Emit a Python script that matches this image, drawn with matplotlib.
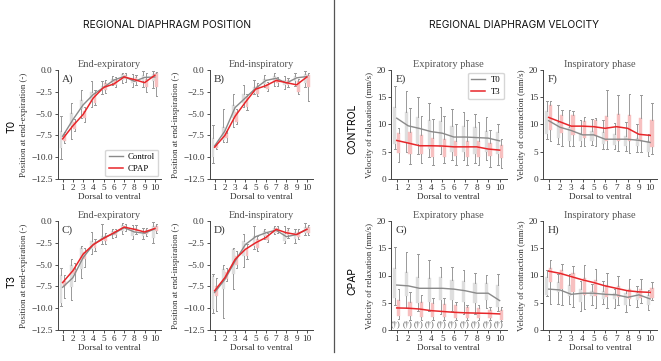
import matplotlib
matplotlib.use("Agg")
import matplotlib.pyplot as plt
from matplotlib.lines import Line2D

# ---------------- data ----------------
positions = [1, 2, 3, 4, 5, 6, 7, 8, 9, 10]
pos_ticks = [-12.5, -10.0, -7.5, -5.0, -2.5, 0.0]
vel_ticks = [0, 5, 10, 15, 20]

# Panel A: end-expiratory position, T0 (Control vs CPAP)
A_ctrl_line = [-7.6, -5.7, -4.0, -2.8, -2.0, -1.15, -0.75, -1.3, -0.85, -0.8]
A_cpap_line = [-7.9, -6.4, -5.1, -3.2, -2.0, -1.6, -0.8, -1.1, -1.45, -0.6]
A_ctrl_box = [(-10.15, -9.0, -6.95, -5.26), (-7.9, -6.4, -4.9, -3.76), (-5.45, -4.5, -3.4, -2.3),
              (-4.3, -3.6, -2.5, -1.3), (-2.8, -2.3, -1.8, -1.3), (-1.7, -1.5, -1.05, -0.68),
              (-1.5, -1.1, -0.45, -0.3), (-1.95, -1.5, -0.94, -0.45), (-1.95, -1.3, -0.56, -0.11),
              (-2.07, -1.3, -0.45, -0.08)]
A_cpap_box = [(-8.35, -8.1, -7.3, -7.07), (-6.95, -6.8, -6.0, -5.6), (-6.0, -5.45, -4.7, -4.2),
              (-4.06, -3.76, -2.63, -2.33), (-2.63, -2.33, -1.5, -1.13), (-1.95, -1.7, -1.13, -0.83),
              (-1.32, -1.05, -0.56, -0.38), (-1.69, -1.43, -0.83, -0.56), (-2.5, -1.95, -1.05, -0.38),
              (-3.0, -1.95, -0.38, -0.19)]

# Panel B: end-inspiratory position, T0
B_ctrl_line = [-8.7, -7.0, -4.3, -3.2, -2.1, -1.2, -0.95, -1.5, -0.9, -0.75]
B_cpap_line = [-8.85, -7.5, -5.3, -3.7, -2.2, -1.8, -1.2, -1.45, -1.7, -0.8]
B_ctrl_box = [(-10.7, -10.0, -7.8, -6.3), (-8.3, -8.0, -6.5, -4.5), (-6.5, -5.5, -4.0, -2.7),
              (-4.3, -3.8, -2.7, -1.7), (-2.8, -2.6, -1.9, -1.2), (-2.0, -1.6, -1.0, -0.6),
              (-1.8, -1.3, -0.7, -0.4), (-2.2, -1.7, -1.2, -0.7), (-1.8, -1.3, -0.7, -0.4),
              (-2.0, -1.5, -0.5, -0.1)]
B_cpap_box = [(-9.1, -9.0, -8.6, -8.4), (-8.2, -7.8, -7.2, -7.0), (-6.2, -6.0, -4.8, -4.5),
              (-4.6, -4.3, -3.0, -2.8), (-3.0, -2.8, -1.8, -1.5), (-2.4, -2.2, -1.6, -1.4),
              (-1.8, -1.5, -1.0, -0.8), (-2.0, -1.7, -1.2, -0.9), (-2.8, -2.5, -1.3, -1.0),
              (-3.5, -2.0, -0.6, -0.3)]

# Panel C: end-expiratory position, T3
C_ctrl_line = [-7.6, -6.5, -4.2, -2.7, -1.9, -1.45, -0.76, -1.26, -1.4, -0.9]
C_cpap_line = [-7.06, -5.7, -3.8, -2.7, -2.0, -1.35, -0.7, -0.95, -1.26, -0.85]
C_ctrl_box = [(-9.73, -9.35, -6.22, -5.34), (-9.05, -7.52, -5.08, -4.31), (-6.49, -5.53, -3.05, -2.86),
              (-3.82, -3.24, -2.29, -1.26), (-2.67, -2.29, -1.72, -0.38), (-1.91, -1.64, -1.15, -0.88),
              (-1.53, -1.15, -0.5, -0.27), (-2.1, -1.72, -0.95, -0.5), (-2.02, -1.72, -1.26, -0.76),
              (-2.56, -1.91, -0.57, -0.11)]
C_cpap_box = [(-8.78, -7.44, -6.87, -6.22), (-6.87, -6.11, -5.46, -4.77), (-5.23, -4.39, -3.55, -3.05),
              (-3.44, -3.05, -2.4, -2.1), (-2.67, -2.29, -1.72, -1.34), (-1.79, -1.64, -1.15, -0.95),
              (-1.15, -0.95, -0.57, -0.38), (-1.53, -1.26, -0.76, -0.5), (-1.72, -1.53, -1.03, -0.76),
              (-1.34, -1.15, -0.57, -0.38)]

# Panel D: end-inspiratory position, T3
D_ctrl_line = [-8.2, -6.7, -4.6, -2.7, -1.8, -1.35, -1.05, -1.8, -1.55, -0.95]
D_cpap_line = [-8.0, -6.5, -4.4, -3.25, -2.5, -1.9, -0.95, -1.35, -1.55, -0.95]
D_ctrl_box = [(-10.5, -10.1, -6.3, -6.1), (-11.1, -7.8, -5.5, -5.0), (-7.8, -6.1, -3.2, -3.05),
              (-5.3, -4.0, -2.3, -1.5), (-3.24, -2.86, -1.72, -0.6), (-2.02, -1.72, -1.15, -0.88),
              (-1.53, -1.34, -0.76, -0.57), (-2.48, -2.29, -1.41, -0.57), (-2.56, -2.1, -1.26, -0.88),
              (-1.64, -1.34, -0.69, -0.27)]
D_cpap_box = [(-10.3, -8.6, -7.44, -6.5), (-6.87, -6.7, -5.9, -5.34), (-5.34, -5.0, -4.0, -3.44),
              (-4.39, -4.0, -3.05, -2.67), (-3.44, -3.05, -2.1, -1.72), (-2.4, -2.17, -1.64, -1.34),
              (-1.41, -1.26, -0.76, -0.57), (-1.91, -1.64, -1.03, -0.76), (-2.02, -1.79, -1.26, -0.95),
              (-1.64, -1.34, -0.69, -0.5)]

# Panel E: expiratory velocity, CONTROL (T0 vs T3)
E_t0_line = [11.16, 9.76, 9.27, 8.7, 8.4, 7.7, 7.7, 7.6, 7.5, 7.0]
E_t3_line = [7.07, 6.6, 6.1, 6.1, 6.05, 5.9, 5.9, 5.9, 5.5, 5.3]
E_t0_box = [(5.5, 6.5, 13.3, 17.0), (5.0, 6.8, 12.3, 16.2), (4.5, 6.5, 11.4, 15.1), (4.0, 5.5, 10.8, 14.0),
            (4.5, 5.8, 10.6, 13.3), (3.5, 5.0, 9.8, 12.9), (3.5, 5.0, 9.7, 12.3), (3.0, 4.5, 9.6, 12.0),
            (3.5, 5.0, 8.8, 11.4), (2.5, 4.5, 8.7, 10.0)]
E_t3_box = [(3.2, 4.8, 8.4, 9.3), (2.8, 4.5, 8.7, 13.1), (2.9, 4.5, 8.0, 11.5), (2.5, 4.0, 7.5, 11.0),
            (3.0, 4.0, 7.3, 11.5), (2.6, 4.2, 6.9, 10.0), (2.5, 4.1, 7.0, 10.8), (2.6, 4.0, 7.0, 10.5),
            (2.2, 4.2, 6.6, 9.0), (2.1, 3.8, 6.2, 7.4)]

# Panel F: inspiratory velocity, CONTROL
F_t0_line = [10.7, 9.5, 8.9, 8.1, 8.1, 7.3, 7.3, 7.3, 7.1, 6.7]
F_t3_line = [11.3, 10.5, 9.7, 9.7, 9.6, 9.3, 9.6, 9.3, 8.2, 8.0]
F_t0_box = [(7.4, 8.3, 12.5, 14.4), (6.5, 7.5, 10.5, 13.6), (6.0, 7.0, 9.5, 12.6), (6.0, 7.0, 8.5, 10.8),
            (6.2, 7.0, 8.8, 11.0), (5.5, 6.5, 8.6, 10.8), (5.5, 6.2, 8.2, 10.3), (5.2, 6.0, 7.9, 10.5),
            (5.0, 6.1, 7.5, 10.0), (4.3, 5.0, 7.0, 8.3)]
F_t3_box = [(7.0, 8.9, 13.5, 14.4), (6.0, 8.5, 11.8, 12.7), (6.0, 8.1, 11.8, 12.5), (6.0, 7.5, 10.7, 11.3),
            (6.0, 7.8, 10.9, 11.2), (5.5, 7.0, 11.5, 16.4), (5.2, 7.0, 12.0, 15.4), (4.8, 7.0, 11.7, 15.6),
            (5.0, 7.0, 11.2, 15.4), (4.5, 5.8, 10.8, 13.9)]

# Panel G: expiratory velocity, CPAP
G_t0_line = [8.25, 8.1, 7.65, 7.65, 7.65, 7.5, 7.2, 6.75, 6.75, 5.4]
G_t3_line = [4.05, 4.0, 3.85, 3.55, 3.4, 3.25, 3.15, 3.1, 3.05, 2.95]
G_t0_box = [(4.5, 5.8, 11.3, 15.2), (4.0, 6.3, 10.7, 14.3), (3.5, 4.9, 9.8, 13.9), (3.5, 5.2, 9.5, 12.8),
            (3.0, 5.5, 9.8, 11.6), (3.5, 5.5, 9.2, 11.5), (3.0, 5.2, 8.9, 11.1), (3.0, 4.9, 8.6, 10.5),
            (4.0, 5.5, 8.6, 10.1), (3.5, 4.3, 8.3, 10.2)]
G_t3_box = [(2.0, 2.5, 5.5, 7.5), (1.8, 2.5, 5.2, 7.0), (1.8, 2.4, 5.1, 6.4), (1.8, 2.4, 5.0, 5.8),
            (1.8, 2.4, 4.8, 5.8), (1.8, 2.2, 4.5, 5.2), (1.8, 2.2, 4.3, 4.6), (1.8, 2.2, 4.0, 4.5),
            (1.8, 2.2, 3.7, 4.3), (1.6, 1.9, 3.7, 4.3)]
G_marks = ["(†)"] * 10

# Panel H: inspiratory velocity, CPAP
H_t0_line = [7.5, 7.35, 6.55, 6.75, 6.75, 6.55, 6.45, 6.0, 6.45, 5.7]
H_t3_line = [10.8, 10.4, 9.8, 9.2, 8.7, 8.1, 7.65, 7.2, 7.0, 6.9]
H_t0_box = [(6.3, 6.5, 9.8, 11.0), (4.8, 7.0, 8.8, 10.3), (4.8, 6.3, 8.2, 10.3), (3.5, 5.2, 7.5, 9.0),
            (4.5, 6.2, 7.2, 8.5), (4.8, 5.7, 7.2, 9.0), (4.0, 5.7, 6.8, 7.5), (3.3, 4.6, 6.7, 7.3),
            (4.3, 5.5, 7.0, 8.0), (3.6, 4.6, 6.5, 7.3)]
H_t3_box = [(4.8, 8.8, 11.3, 12.8), (4.5, 7.5, 11.0, 12.2), (4.2, 7.0, 10.5, 11.8), (3.8, 6.5, 9.6, 11.9),
            (4.0, 6.3, 9.2, 11.2), (4.0, 6.0, 8.3, 10.4), (4.5, 6.0, 8.0, 10.0), (4.5, 5.6, 7.6, 9.4),
            (5.0, 5.8, 7.5, 9.4), (5.5, 5.8, 7.7, 8.8)]

# ---------------- style ----------------
SERIF = ["Liberation Serif", "DejaVu Serif"]
SANS = ["Inter", "DejaVu Sans"]
GREY_LINE = "#8a8a8a"
RED_LINE = "#e8262a"
GREY_BOX = "#dedede"
PINK_BOX = "#f7c0c0"
WHISK = "#999999"
TXT = "#333333"

plt.rcParams["font.family"] = SERIF
plt.rcParams["axes.unicode_minus"] = True

fig = plt.figure(figsize=(6.61, 3.61), dpi=100)

W, H = 661.0, 361.0
def rect(l, r, top, bot):
    return [l / W, 1 - bot / H, (r - l) / W, (bot - top) / H]

row_y = [(70, 179), (221, 330)]
col_x = [(57.5, 161), (209.5, 313), (391, 506.5), (543, 657)]

def draw_boxes(ax, boxes, offs, color):
    stats = [dict(whislo=b[0], q1=b[1], med=(b[1] + b[2]) / 2, q3=b[2], whishi=b[3], fliers=[])
             for b in boxes]
    ax.bxp(stats, positions=[p + offs for p in positions], widths=0.28, patch_artist=True,
           showfliers=False, manage_ticks=False,
           boxprops=dict(facecolor=color, edgecolor=color, linewidth=0.3),
           whiskerprops=dict(color=WHISK, linewidth=0.7),
           capprops=dict(color=WHISK, linewidth=0.7),
           medianprops=dict(linewidth=0),
           capwidths=0.14)

def panel(rc, letter, title, l1, b1, l2, b2, kind, ylabel):
    r, c = rc
    ax = fig.add_axes(rect(col_x[c][0], col_x[c][1], row_y[r][0], row_y[r][1]))
    draw_boxes(ax, b1, -0.16, GREY_BOX)
    draw_boxes(ax, b2, 0.16, PINK_BOX)
    ax.plot(positions, l1, color=GREY_LINE, lw=1.0, zorder=5)
    ax.plot(positions, l2, color=RED_LINE, lw=1.1, zorder=6)
    ax.set_xlim(0.5, 10.6)
    if kind == "pos":
        ax.set_ylim(-12.5, 0.0)
        ax.set_yticks(pos_ticks)
        ax.set_yticklabels([f"{t:.1f}".replace("-", "\u2212") for t in pos_ticks])
    else:
        ax.set_ylim(0, 20)
        ax.set_yticks(vel_ticks)
    ax.set_xticks(positions)
    ax.tick_params(labelsize=6.7, colors=TXT, length=2, width=0.6, pad=1.5)
    for s in ("top", "right"):
        ax.spines[s].set_visible(False)
    for s in ("left", "bottom"):
        ax.spines[s].set_color("#444444")
        ax.spines[s].set_linewidth(0.7)
    ax.set_title(title, fontsize=7.5, color="#555555", pad=2.5)
    ax.set_xlabel("Dorsal to ventral", fontsize=6.7, color=TXT, labelpad=1)
    ax.set_ylabel(ylabel, fontsize=6.5, color=TXT, labelpad=2)
    ax.text(0.04, 0.96, letter, transform=ax.transAxes, fontsize=8, color=TXT, va="top", ha="left")
    return ax

axA = panel((0, 0), "A)", "End-expiratory", A_ctrl_line, A_ctrl_box, A_cpap_line, A_cpap_box,
            "pos", "Position at end-expiration (-)")
axB = panel((0, 1), "B)", "End-inspiratory", B_ctrl_line, B_ctrl_box, B_cpap_line, B_cpap_box,
            "pos", "Position at end-inspiration (-)")
axC = panel((1, 0), "C)", "End-expiratory", C_ctrl_line, C_ctrl_box, C_cpap_line, C_cpap_box,
            "pos", "Position at end-expiration (-)")
axD = panel((1, 1), "D)", "End-inspiratory", D_ctrl_line, D_ctrl_box, D_cpap_line, D_cpap_box,
            "pos", "Position at end-inspiration (-)")
axE = panel((0, 2), "E)", "Expiratory phase", E_t0_line, E_t0_box, E_t3_line, E_t3_box,
            "vel", "Velocity of relaxation (mm/s)")
axF = panel((0, 3), "F)", "Inspiratory phase", F_t0_line, F_t0_box, F_t3_line, F_t3_box,
            "vel", "Velocity of contraction (mm/s)")
axG = panel((1, 2), "G)", "Expiratory phase", G_t0_line, G_t0_box, G_t3_line, G_t3_box,
            "vel", "Velocity of relaxation (mm/s)")
axH = panel((1, 3), "H)", "Inspiratory phase", H_t0_line, H_t0_box, H_t3_line, H_t3_box,
            "vel", "Velocity of contraction (mm/s)")

for p, m in zip(positions, G_marks):
    axG.text(p - 0.1, 1.1, m, fontsize=6, color="#555555", ha="center", va="center", zorder=7)

leg_a = [Line2D([], [], color=GREY_LINE, lw=1.0), Line2D([], [], color=RED_LINE, lw=1.1)]
axA.legend(leg_a, ["Control", "CPAP"], loc="lower right", fontsize=6.3, frameon=True,
           handlelength=1.6, handletextpad=0.6, borderpad=0.4, labelspacing=0.4,
           edgecolor="#cccccc", fancybox=True, borderaxespad=0.3)
axE.legend(leg_a, ["T0", "T3"], loc="upper right", fontsize=6.3, frameon=True,
           handlelength=1.6, handletextpad=0.6, borderpad=0.4, labelspacing=0.4,
           edgecolor="#cccccc", fancybox=True, borderaxespad=0.3)

# headings and row labels
fig.text(167 / W, 1 - 25 / H, "REGIONAL DIAPHRAGM POSITION", family=SANS, fontsize=7.4,
         ha="center", va="center", color="#111111")
fig.text(514 / W, 1 - 25 / H, "REGIONAL DIAPHRAGM VELOCITY", family=SANS, fontsize=7.4,
         ha="center", va="center", color="#111111")
fig.text(12 / W, 1 - 126 / H, "T0", family=SANS, fontsize=7.5, rotation=90, ha="center", va="center")
fig.text(12 / W, 1 - 281 / H, "T3", family=SANS, fontsize=7.5, rotation=90, ha="center", va="center")
fig.text(352 / W, 1 - 129 / H, "CONTROL", family=SANS, fontsize=7.5, rotation=90, ha="center", va="center")
fig.text(352 / W, 1 - 281 / H, "CPAP", family=SANS, fontsize=7.5, rotation=90, ha="center", va="center")

fig.add_artist(Line2D([334 / W, 334 / W], [1.0, 1 - 352 / H], transform=fig.transFigure,
                      color="#555555", lw=0.9))

fig.savefig("out.png", dpi=100)
